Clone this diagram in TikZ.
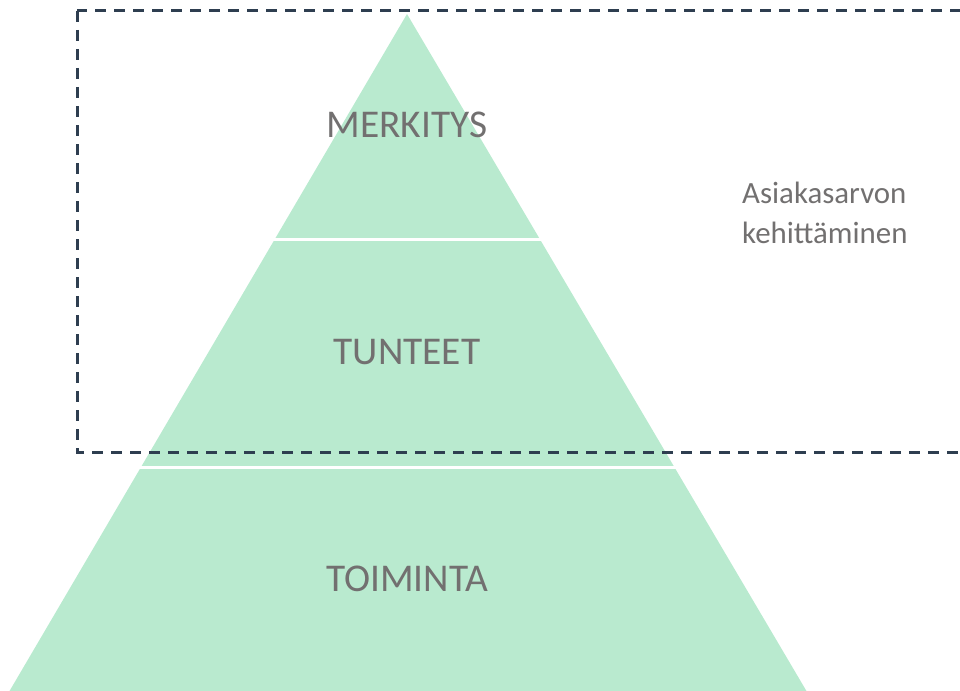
\documentclass[tikz,border=0pt]{standalone}
\usepackage{fontspec}
\setmainfont{Carlito}
\usetikzlibrary{calc}
\definecolor{layergreen}{HTML}{B9EACF}
\definecolor{labelgray}{HTML}{727070}
\definecolor{framenavy}{HTML}{2E3E50}
\tikzset{
  layerlabel/.style={text=labelgray, font=\fontsize{39.5}{46}\selectfont, inner sep=0pt},
  sidelabel/.style={text=labelgray, font=\fontsize{31}{40}\selectfont, align=left, inner sep=0pt},
  divider/.style={white, line width=3bp},
  frame/.style={framenavy, line width=3bp, dash pattern=on 11bp off 8bp}
}
\begin{document}
\begin{tikzpicture}[x=1bp, y=-1bp]
  \useasboundingbox (0,0) rectangle (960,691);
  \clip (0,0) rectangle (960,691);
  % pyramid body
  \coordinate (apex) at (407,14);
  \coordinate (bl) at (6,697);
  \coordinate (br) at (810,697);
  \fill[layergreen] (apex) -- (bl) -- (br) -- cycle;
  % layer dividers
  \coordinate (d1l) at ($(apex)!0.3299!(bl)$);
  \coordinate (d1r) at ($(apex)!0.3299!(br)$);
  \coordinate (d2l) at ($(apex)!0.6633!(bl)$);
  \coordinate (d2r) at ($(apex)!0.6633!(br)$);
  \draw[divider] ([xshift=-4bp]d1l) -- ([xshift=4bp]d1r);
  \draw[divider] ([xshift=-4bp]d2l) -- ([xshift=4bp]d2r);
  % dashed frame around the upper layers
  \coordinate (fa) at (77,11);
  \coordinate (fb) at (990,452);
  \draw[frame] (fa) rectangle (fb);
  % labels
  \node[layerlabel] (merkitys) at (407,125) {MERKITYS};
  \node[layerlabel] (tunteet) at (407,352) {TUNTEET};
  \node[layerlabel] (toiminta) at (407,579) {TOIMINTA};
  \node[sidelabel, anchor=west] (arvo) at (742,213) {Asiakasarvon\\kehittäminen};
\end{tikzpicture}
\end{document}
